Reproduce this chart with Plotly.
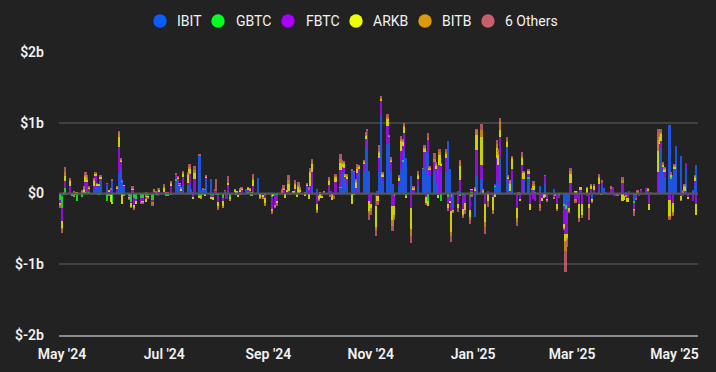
import pandas as pd
import plotly.graph_objects as go

# Daily net flows, $m (trading days 2024-04-30 .. 2025-05-14)
holidays = ["2024-05-27", "2024-06-19", "2024-07-04", "2024-09-02", "2024-11-28",
            "2024-12-25", "2025-01-01", "2025-01-09", "2025-01-20", "2025-02-17", "2025-04-18"]
dates = pd.bdate_range("2024-04-30", "2025-05-14", freq="C", holidays=holidays)

ibit = [0,
    -37,0,13,0,0,0,0,0,0,0,0,93,0,50,150,90,90,180,100,0,0,169,
    20,274,350,168,90,0,0,0,0,0,0,0,0,0,0,0,0,82,0,
    0,0,0,0,187,121,120,0,120,117,100,60,20,0,526,50,60,50,205,200,0,20,
    0,0,0,0,0,30,0,0,0,0,0,0,60,0,0,0,0,224,0,0,0,0,
    0,0,0,0,0,0,0,0,0,0,0,0,0,0,0,100,0,0,100,60,
    0,0,0,0,0,30,0,0,0,80,290,300,200,100,330,300,0,170,290,320,640,893,315,
    0,0,40,300,1114,180,700,700,300,130,0,100,350,450,608,500,250,0,0,100,
    340,380,600,560,250,300,150,400,0,300,300,741,350,0,-190,30,40,0,-36,-80,0,
    -332,253,200,0,0,0,0,100,200,100,500,660,155,0,200,0,0,0,0,200,
    200,0,0,50,0,100,0,0,150,0,60,0,0,0,-160,-164,-418,-100,0,
    0,30,0,0,0,0,0,0,-80,0,60,0,100,80,0,0,0,0,0,0,0,
    0,20,0,0,-100,0,0,0,0,30,40,0,0,0,500,643,327,240,970,216,267,
    351,675,531,0,0,356,0,50,100,400]
gbtc = [-93,
    -167,-10,63,4,-30,-44,-15,-103,-50,0,27,0,15,0,0,0,-10,0,-105,-30,-20,-124,
    0,0,0,15,-37,-40,-121,0,-62,-80,-62,-62,-53,-34,-90,0,-10,-10,0,
    0,-32,-30,-28,25,0,10,0,0,0,0,0,-10,0,-40,-50,-20,-10,0,-20,-30,0,
    -10,-20,-70,10,0,0,-50,0,-20,0,-10,0,0,20,0,-30,0,0,0,0,0,-20,
    -50,-20,-23,-20,0,0,0,0,0,0,0,-25,0,0,0,0,0,0,0,0,
    0,0,-10,0,0,0,0,0,0,10,0,0,0,0,0,0,0,0,0,0,0,0,0,
    0,0,0,0,0,0,0,0,0,0,-30,0,0,20,0,-40,0,0,0,0,
    0,0,0,-100,0,0,0,0,0,-100,0,-50,0,-50,0,0,-30,-20,0,0,20,
    0,0,0,0,0,0,0,10,0,0,0,0,0,0,0,0,-20,0,0,0,
    30,0,0,0,0,0,0,0,0,0,0,0,0,-20,-20,-60,0,0,0,
    0,-10,0,0,0,0,0,0,0,0,0,0,0,0,0,0,0,0,0,0,0,
    0,0,-10,0,-40,-20,0,0,0,0,0,0,0,0,0,0,0,0,0,20,0,
    0,0,0,0,0,0,0,0,0,0]
fbtc = [-35,
    -191,5,103,100,0,21,6,7,10,10,131,67,50,50,100,30,20,35,35,30,50,10,
    50,379,90,22,20,-20,-20,50,-100,-40,-62,-40,-30,-2,-35,27,15,-25,20,
    25,10,5,117,61,91,10,30,115,36,180,0,-40,200,0,0,0,-10,20,-30,-20,20,
    30,-100,-30,30,-80,100,0,20,10,-30,30,60,0,30,30,10,100,0,0,-60,-30,-50,
    -162,0,-150,-85,20,50,0,20,40,10,70,0,10,20,5,10,50,100,200,-150,
    -30,0,-20,20,120,-30,0,-40,160,240,80,60,30,100,0,10,80,120,50,100,133,0,-100,
    -150,-170,-40,200,190,60,250,100,150,-180,-150,80,250,200,250,0,-200,50,50,100,
    10,200,-50,200,80,150,200,-20,400,100,200,-100,-100,-200,-50,-150,150,-200,-100,-150,30,
    36,357,200,0,-150,40,-50,20,300,300,300,0,45,40,150,-200,0,-80,400,0,
    40,-150,50,-80,-100,-150,-60,0,100,-80,-60,-20,-150,-40,-250,-345,-150,-100,150,
    -80,-50,-150,50,-150,-30,-150,60,0,50,80,0,50,0,20,60,90,-40,-30,0,150,
    -40,-30,-50,30,-80,-50,20,-30,50,50,0,-150,20,300,200,100,50,60,-86,0,-137,
    0,0,-40,-30,40,80,-60,-100,80,-150]
arkb = [-31,
    -98,0,68,75,5,0,0,5,0,50,86,36,20,80,30,15,30,20,0,15,-100,-20,
    20,139,30,-150,10,-5,-55,10,-40,-25,-10,-30,-40,-20,0,0,5,0,30,
    50,5,0,25,0,20,5,40,50,117,70,0,-20,90,-30,-10,0,-10,15,-30,-40,0,
    0,-50,-80,0,0,20,-30,30,30,-10,20,10,0,30,30,5,90,0,-60,0,-20,-60,
    -33,-10,0,-30,0,20,-60,30,100,20,60,-30,80,30,-40,20,-80,200,120,-80,
    -60,-70,-30,0,60,0,-90,0,70,100,40,70,30,40,-150,-10,80,60,40,20,40,0,-150,
    -60,-300,-70,80,30,30,100,10,20,-200,-120,40,140,60,80,-10,-300,30,20,60,
    0,60,-90,-70,30,0,40,-40,150,20,60,-50,-30,-300,-20,-60,200,-80,-100,-100,5,
    16,222,400,30,-250,-100,-180,-50,150,150,100,70,30,100,150,-150,0,-20,100,100,
    50,-80,0,50,0,0,-40,-60,-50,-20,0,0,-70,0,-60,-100,-60,-60,120,
    30,0,-200,40,-150,80,-50,60,-40,60,80,0,0,0,0,0,0,0,0,0,-100,
    -50,0,-60,0,-10,0,0,0,0,0,15,-80,0,300,100,100,30,40,-226,30,-130,
    30,0,-60,20,60,0,-10,0,50,-150]
bitb = [-10,
    -7,0,50,15,0,-5,10,0,20,10,20,20,0,20,0,0,0,0,0,0,10,5,
    10,62,12,0,0,0,0,0,-10,0,0,0,0,0,-20,30,0,0,0,
    30,0,0,14,0,0,0,0,10,10,20,0,0,40,0,-20,0,0,5,0,0,0,
    0,-30,-20,0,0,0,-20,10,0,0,10,0,0,10,20,0,30,0,-20,0,-20,-40,
    -20,0,-10,0,20,0,0,0,50,0,20,0,30,20,0,0,0,20,40,-30,
    0,20,0,10,20,0,0,0,20,60,30,10,10,20,0,0,20,30,10,10,20,0,-30,
    -40,-50,0,20,10,10,30,0,10,-80,-40,20,30,20,30,0,-100,10,10,20,
    0,20,0,30,10,40,20,0,30,10,30,0,0,-50,0,0,50,-20,0,-50,-30,
    20,61,100,10,-80,0,-40,0,50,50,120,30,10,30,10,-50,0,0,30,0,
    0,0,30,40,0,-50,0,0,0,0,-20,-20,0,0,-10,-150,-30,0,50,
    -20,0,0,0,0,0,0,0,0,0,20,-20,0,0,0,30,0,0,0,0,40,
    0,-20,0,0,-30,0,10,0,0,0,10,0,0,150,50,30,10,20,-30,0,-30,
    20,0,0,10,20,0,0,0,20,0]
others = [-30,
    -64,3,82,18,0,10,5,0,10,30,39,41,15,20,25,5,0,15,10,0,20,8,
    5,33,6,0,0,-15,-5,40,-14,0,-10,-20,20,-10,-30,5,10,0,23,
    24,3,5,15,22,10,2,9,15,21,52,0,0,54,30,0,5,10,7,0,0,10,
    170,-37,0,5,0,100,0,0,0,0,5,10,0,0,0,5,60,0,0,0,0,0,
    -20,0,-27,-35,30,50,0,0,73,0,37,0,38,22,15,6,40,45,34,-20,
    -20,0,0,0,35,-10,0,-40,30,66,30,18,0,13,10,5,12,30,12,29,37,20,-90,
    -50,-80,-50,90,32,13,40,7,30,-70,-30,15,46,23,32,0,-100,10,20,40,
    3,16,-20,60,6,80,29,0,50,0,40,-48,0,-80,-17,-46,35,-18,-51,-46,-20,
    18,15,78,12,-88,-89,-14,0,55,26,52,42,8,18,15,-57,20,0,58,18,
    20,0,0,35,20,-50,0,0,5,-10,0,0,-30,0,-16,-291,-96,-16,40,
    -30,0,-50,0,-40,10,-170,15,-15,25,34,0,45,0,0,20,0,0,0,-30,50,
    0,0,0,0,-60,-20,10,0,10,0,0,0,0,160,62,44,25,20,-37,40,-26,
    21,0,-6,10,20,0,0,0,10,0]

names = ["IBIT", "GBTC", "FBTC", "ARKB", "BITB", "6 Others"]
series = [ibit, gbtc, fbtc, arkb, bitb, others]
colors = ["#1f5fff", "#14f52a", "#a10cf5", "#e8f000", "#d9960f", "#c8606e"]
legend_colors = ["#0a5cff", "#00ff22", "#aa00ff", "#eeff00", "#dc9b0a", "#c85f6e"]

tick_dates = ["2024-05-01", "2024-07-01", "2024-09-01", "2024-11-01",
              "2025-01-01", "2025-03-01", "2025-05-01"]
tick_text = ["May '24", "Jul '24", "Sep '24", "Nov '24", "Jan '25", "Mar '25", "May '25"]
y_ticks = [-2000, -1000, 0, 1000, 2000]
y_text = ["$-2b", "$-1b", "$0", "$1b", "$2b"]

for s in series:
    assert len(s) == len(dates), (len(s), len(dates))

FONT = "Roboto, sans-serif"
W, H = 716, 372
L, R, T, B = 59, 18, 52, 37
PW, PH = W - L - R, H - T - B

def px_to_paper(sx, sy):
    return (sx - L) / PW, 1 - (sy - T) / PH

fig = go.Figure()
for name, vals, col in zip(names, series, colors):
    fig.add_trace(go.Bar(x=dates, y=vals, name=name, marker_color=col,
                         marker_line_width=0, opacity=0.85,
                         width=1.3 * 86400000, showlegend=False, hoverinfo="skip"))

fig.add_shape(type="line", xref="paper", x0=0, x1=1, yref="y", y0=0, y1=0,
              line=dict(color="#555555", width=2), layer="above")

# custom legend (circle + label), positions in screen pixels
legend_circle_x = [160, 218, 288, 356, 425, 488]
legend_text_x = [175, 234, 304, 371, 440, 503]
legend_y = 21
for name, col, cx, tx in zip(names, legend_colors, legend_circle_x, legend_text_x):
    px, py = px_to_paper(cx, legend_y)
    fig.add_shape(type="circle", xref="paper", yref="paper",
                  xsizemode="pixel", ysizemode="pixel", xanchor=px, yanchor=py,
                  x0=-6.7, x1=6.7, y0=-6.7, y1=6.7,
                  fillcolor=col, line_width=0)
    ax, ay = px_to_paper(tx, legend_y)
    fig.add_annotation(x=ax, y=ay, xref="paper", yref="paper", text=name,
                       showarrow=False, xanchor="left", yanchor="middle",
                       font=dict(family=FONT, size=14, color="#f2f2f2"))

fig.update_layout(
    width=W, height=H,
    margin=dict(l=L, r=R, t=T, b=B, autoexpand=False),
    paper_bgcolor="#222222", plot_bgcolor="#222222",
    barmode="relative", bargap=0, showlegend=False, hovermode=False,
    font=dict(family=FONT, color="#f2f2f2", size=14),
    xaxis=dict(type="date", range=["2024-04-29 06:00", "2025-05-15"],
               tickvals=tick_dates, ticktext=tick_text, showgrid=False,
               showline=True, linecolor="#8c8c8c", linewidth=2,
               ticks="", ticklabelstandoff=5,
               tickfont=dict(family=FONT, size=14, color="#f2f2f2", weight=600)),
    yaxis=dict(range=[-2000, 2000], tickvals=y_ticks, ticktext=y_text,
               showgrid=True, gridcolor="#424242", gridwidth=2, zeroline=False,
               ticks="", ticklabelstandoff=14,
               tickfont=dict(family=FONT, size=14, color="#f2f2f2", weight=600)),
)

fig.write_html("out.html", config={"displayModeBar": False},
               post_script="document.body.style.margin='0';"
                           "document.body.style.background='#222222';")
